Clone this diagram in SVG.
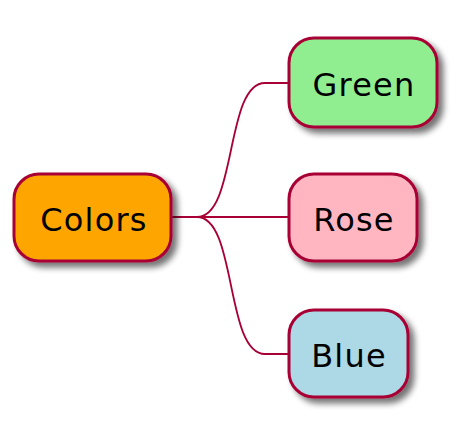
<svg xmlns="http://www.w3.org/2000/svg" width="470" height="438" viewBox="0 0 470 438">
<defs>
<filter id="sh" x="-20%" y="-20%" width="150%" height="160%">
<feGaussianBlur in="SourceAlpha" stdDeviation="3"/>
<feOffset dx="5" dy="5" result="b"/>
<feComponentTransfer><feFuncA type="linear" slope="0.55"/></feComponentTransfer>
<feMerge><feMergeNode/><feMergeNode in="SourceGraphic"/></feMerge>
</filter>
<style>
.n{stroke:#A80036;stroke-width:3;filter:url(#sh)}
.t{font-family:"DejaVu Sans",Verdana,sans-serif;font-size:32px;fill:#000;text-anchor:middle;letter-spacing:1.2px}
.c{fill:none;stroke:#A80036;stroke-width:1.8}
</style>
</defs>
<rect width="470" height="438" fill="#fff"/>
<g id="connectors">
<path class="c" d="M171,217 L197,217 C237,217 225,83 265,83 L289,83"/>
<path class="c" d="M171,217 L289,217"/>
<path class="c" d="M197,217 C237,217 225,354 265,354 L289,354"/>
</g>
<g id="colors">
<rect class="n" x="14" y="174" width="157" height="87" rx="25" fill="#FFA500"/>
<text class="t" x="94" y="231">Colors</text>
</g>
<g id="green">
<rect class="n" x="289" y="38" width="148" height="89" rx="25" fill="#90EE90"/>
<text class="t" x="364" y="96">Green</text>
</g>
<g id="rose">
<rect class="n" x="289" y="174" width="128" height="87" rx="25" fill="#FFB6C1"/>
<text class="t" x="354" y="231">Rose</text>
</g>
<g id="blue">
<rect class="n" x="289" y="310" width="119" height="87" rx="25" fill="#ADD8E6"/>
<text class="t" x="349" y="367">Blue</text>
</g>
</svg>
